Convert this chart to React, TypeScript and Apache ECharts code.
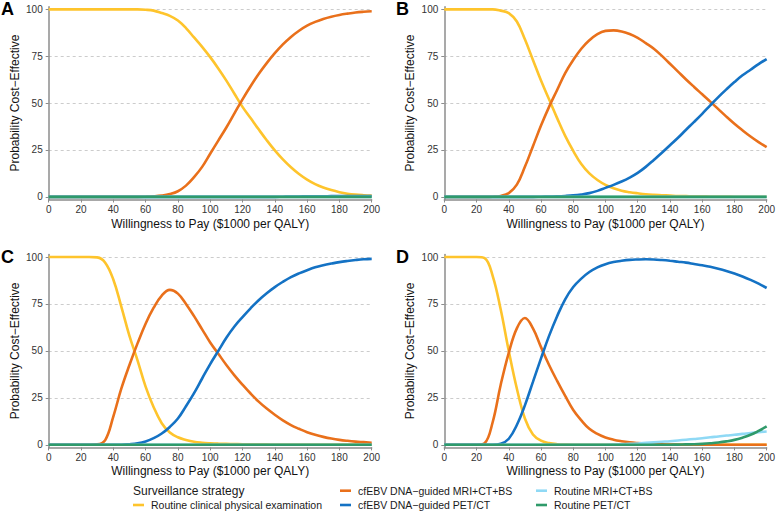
import React, { useEffect, useRef } from "react";
import * as echarts from "echarts";

// Willingness to pay ($1000 per QALY)
const WTP = [0, 5, 10, 15, 20, 25, 30, 35, 40, 45, 50, 55, 60, 65, 70, 75, 80, 85, 90, 95, 100, 105, 110, 115, 120, 125, 130, 135, 140, 145, 150, 155, 160, 165, 170, 175, 180, 185, 190, 195, 200];
const X_TICKS = [0, 20, 40, 60, 80, 100, 120, 140, 160, 180, 200];
const Y_TICKS = [0, 25, 50, 75, 100];

const STRATEGIES = [
  "Routine clinical physical examination",
  "cfEBV DNA\u2212guided MRI+CT+BS",
  "cfEBV DNA\u2212guided PET/CT",
  "Routine MRI+CT+BS",
  "Routine PET/CT",
];
const COLORS = ["#FEC42C", "#E9701B", "#1472C4", "#8FD9F5", "#2F9A6A"];
const PANELS = ["A", "B", "C", "D"];

// Panel A
const yellowA = [100, 100, 100, 100, 100, 100, 100, 100, 100, 100, 100, 100, 99.8, 99.3, 98, 96.5, 94, 90, 85, 80, 74.5, 68.5, 62, 55, 48, 42, 36, 30.2, 24.8, 20, 15.8, 12.2, 9.2, 6.8, 5, 3.6, 2.5, 1.7, 1.2, 0.9, 0.7];
const orangeA = [0, 0, 0, 0, 0, 0, 0, 0, 0, 0, 0, 0, 0.1, 0.3, 0.7, 1.5, 3, 6, 10.5, 16, 23, 30, 37, 44.5, 52, 59, 65.5, 71.3, 76.6, 81.3, 85.3, 88.6, 91.3, 93.3, 94.9, 96.1, 97, 97.7, 98.3, 98.7, 99];
const blueA = [0, 0, 0, 0, 0, 0, 0, 0, 0, 0, 0, 0, 0, 0, 0, 0, 0, 0, 0, 0, 0, 0, 0, 0, 0, 0, 0, 0, 0, 0.1, 0.2, 0.2, 0.3, 0.3, 0.3, 0.4, 0.4, 0.4, 0.4, 0.4, 0.4];
const lightA = [0, 0, 0, 0, 0, 0, 0, 0, 0, 0, 0, 0, 0, 0, 0, 0, 0, 0, 0, 0, 0, 0, 0, 0, 0, 0, 0, 0, 0, 0, 0, 0, 0, 0, 0, 0, 0, 0, 0, 0, 0];
const greenA = [0, 0, 0, 0, 0, 0, 0, 0, 0, 0, 0, 0, 0, 0, 0, 0, 0, 0, 0, 0, 0, 0, 0, 0, 0, 0, 0, 0, 0, 0, 0, 0, 0, 0, 0, 0, 0, 0, 0, 0, 0];

// Panel B
const yellowB = [100, 100, 100, 100, 100, 100, 100, 99.3, 98, 93.5, 84, 73, 62, 52, 42, 32.5, 24.5, 17.5, 12.5, 9, 6.4, 4.6, 3.3, 2.5, 1.9, 1.4, 1.1, 0.9, 0.7, 0.5, 0.4, 0.3, 0.3, 0.2, 0.2, 0.2, 0.1, 0.1, 0.1, 0.1, 0.1];
const orangeB = [0, 0, 0, 0, 0, 0, 0.1, 0.5, 2, 6.5, 16, 27, 38, 48, 57, 66, 73, 79, 83.5, 86.8, 88.5, 88.8, 88.2, 86.8, 84.8, 82, 79, 75.2, 71, 66.8, 62.6, 58.6, 54.7, 50.8, 46.8, 42.8, 39, 35.5, 32.2, 29.2, 26.5];
const blueB = [0, 0, 0, 0, 0, 0, 0, 0, 0, 0, 0, 0, 0.1, 0.2, 0.3, 0.5, 0.8, 1.3, 2, 3.2, 4.8, 6.4, 8.2, 10.3, 12.8, 16, 19.7, 23.5, 27.5, 31.5, 35.8, 40, 44.3, 48.8, 53.2, 57.3, 61.2, 64.8, 67.8, 70.8, 73.5];
const lightB = [0, 0, 0, 0, 0, 0, 0, 0, 0, 0, 0, 0, 0, 0, 0, 0, 0, 0, 0, 0, 0, 0, 0, 0, 0, 0, 0, 0, 0, 0, 0, 0, 0, 0, 0, 0, 0, 0, 0, 0, 0];
const greenB = [0, 0, 0, 0, 0, 0, 0, 0, 0, 0, 0, 0, 0, 0, 0, 0, 0, 0, 0, 0, 0, 0, 0, 0, 0, 0, 0, 0, 0, 0, 0, 0, 0, 0, 0, 0, 0, 0, 0, 0, 0];

// Panel C
const yellowC = [100, 100, 100, 100, 100, 100, 99.8, 97, 88, 73.5, 58, 45, 31, 20, 11.5, 6.5, 4, 2.6, 1.6, 1.1, 0.8, 0.6, 0.5, 0.4, 0.3, 0.3, 0.2, 0.2, 0.1, 0.1, 0.1, 0.1, 0.1, 0.1, 0.1, 0.1, 0.1, 0.1, 0.1, 0.1, 0.1];
const orangeC = [0, 0, 0, 0, 0, 0, 0.2, 2.5, 15, 30, 42.5, 54, 64.5, 73, 79.5, 82.5, 80.5, 75, 68.5, 61.5, 54.5, 48.5, 42.5, 37, 32, 27.3, 23, 19.3, 16, 13, 10.5, 8.5, 6.7, 5.3, 4.2, 3.3, 2.6, 2.1, 1.7, 1.4, 1.1];
const blueC = [0, 0, 0, 0, 0, 0, 0, 0, 0, 0, 0.3, 0.8, 1.8, 3.5, 6, 9.5, 14, 20.5, 27.5, 35.3, 43, 50, 57, 63, 68, 72.7, 77, 80.7, 84, 86.8, 89.3, 91.3, 93, 94.5, 95.6, 96.5, 97.3, 97.9, 98.4, 98.8, 99];
const lightC = [0, 0, 0, 0, 0, 0, 0, 0, 0, 0, 0, 0, 0, 0, 0, 0, 0, 0, 0, 0, 0, 0, 0, 0, 0, 0, 0, 0, 0, 0, 0, 0, 0, 0, 0, 0, 0, 0, 0, 0, 0];
const greenC = [0, 0, 0, 0, 0, 0, 0, 0, 0, 0, 0, 0, 0, 0, 0, 0, 0, 0, 0, 0, 0, 0, 0, 0, 0, 0, 0, 0, 0, 0, 0, 0, 0, 0, 0, 0, 0, 0, 0, 0, 0];

// Panel D
const yellowD = [100, 100, 100, 100, 100, 99.4, 90, 72, 50, 30, 14, 5.5, 2.2, 0.9, 0.3, 0.1, 0, 0, 0, 0, 0, 0, 0, 0, 0, 0, 0, 0, 0, 0, 0, 0, 0, 0, 0, 0, 0, 0, 0, 0, 0];
const orangeD = [0, 0, 0, 0, 0, 0.8, 12, 32, 49, 62, 67.5, 62, 52, 42.5, 34, 26, 18.5, 13, 8.5, 5.8, 3.9, 2.7, 1.9, 1.3, 0.9, 0.6, 0.4, 0.2, 0.1, 0, 0, 0, 0, 0, 0, 0, 0, 0, 0, 0, 0];
const blueD = [0, 0, 0, 0, 0, 0, 0, 0.5, 3.2, 10.5, 21, 33.5, 46, 58, 68.5, 77.5, 84, 88.5, 92, 94.5, 96.2, 97.3, 98, 98.5, 98.7, 98.8, 98.7, 98.4, 98, 97.5, 97, 96.3, 95.6, 94.8, 93.8, 92.6, 91.2, 89.6, 87.8, 85.8, 83.5];
const lightD = [0, 0, 0, 0, 0, 0, 0, 0, 0, 0, 0, 0, 0, 0, 0, 0, 0, 0, 0, 0, 0, 0.1, 0.3, 0.5, 0.7, 1, 1.3, 1.6, 1.9, 2.3, 2.7, 3.1, 3.5, 4, 4.4, 4.9, 5.3, 5.8, 6.2, 6.7, 7.1];
const greenD = [0, 0, 0, 0, 0, 0, 0, 0, 0, 0, 0, 0, 0, 0, 0, 0, 0, 0, 0, 0, 0, 0, 0, 0, 0, 0, 0, 0, 0, 0.1, 0.2, 0.3, 0.5, 0.8, 1.2, 1.8, 2.6, 3.8, 5.3, 7.4, 9.8];

const PANEL_DATA = [
  [yellowA, orangeA, blueA, lightA, greenA],
  [yellowB, orangeB, blueB, lightB, greenB],
  [yellowC, orangeC, blueC, lightC, greenC],
  [yellowD, orangeD, blueD, lightD, greenD],
];

const FONT = "'Liberation Sans', Arial, Helvetica, sans-serif";

export default function App() {
  const ref = useRef<HTMLDivElement>(null);

  useEffect(() => {
    document.body.style.margin = "0";
    if (!ref.current) return;
    const chart = echarts.init(ref.current, null, { renderer: "svg" });

    const grids = [
      { left: 48.7, top: 6.7, width: 323, height: 192.8 },
      { left: 444.3, top: 6.7, width: 325, height: 192.8 },
      { left: 48.7, top: 254.4, width: 323, height: 193 },
      { left: 444.3, top: 254.4, width: 325, height: 193 },
    ];
    const axisGray = "#8c8c8c";

    const xAxes = grids.map((_, i) => ({
      type: "value",
      gridIndex: i,
      min: 0,
      max: 200,
      interval: 20,
      name: "Willingness to Pay ($1000 per QALY)",
      nameLocation: "middle",
      nameGap: 18,
      nameTextStyle: { fontSize: 12, color: "#111", fontFamily: FONT },
      axisLine: { show: true, onZero: false, lineStyle: { color: axisGray, width: 1.5 } },
      axisTick: { show: true, length: 3, lineStyle: { color: axisGray, width: 1 } },
      axisLabel: { fontSize: 10, color: "#333", margin: 5, fontFamily: FONT, customValues: X_TICKS },
      splitLine: { show: false },
    }));

    const yAxes = grids.map((_, i) => ({
      type: "value",
      gridIndex: i,
      min: -1.4,
      max: 101.4,
      name: "Probability Cost\u2212Effective",
      nameLocation: "middle",
      nameGap: 28,
      nameTextStyle: { fontSize: 12, color: "#111", fontFamily: FONT },
      axisLine: { show: true, onZero: false, lineStyle: { color: axisGray, width: 1.5 } },
      axisTick: { show: true, length: 3, lineStyle: { color: axisGray, width: 1 }, customValues: Y_TICKS },
      axisLabel: { fontSize: 10, color: "#333", margin: 6, fontFamily: FONT, customValues: Y_TICKS },
      splitLine: { show: true, lineStyle: { color: "#cccccc", width: 1, type: [3, 3] } },
    }));

    const series: any[] = [];
    PANEL_DATA.forEach((panel, p) => {
      panel.forEach((vals, s) => {
        series.push({
          type: "line",
          name: STRATEGIES[s],
          xAxisIndex: p,
          yAxisIndex: p,
          data: WTP.map((x, k) => [x, vals[k]]),
          showSymbol: false,
          smooth: 0.4,
          lineStyle: { color: COLORS[s], width: 2.6 },
          itemStyle: { color: COLORS[s] },
          z: 2 + s,
        });
      });
    });

    const letterPos = [
      [1, 9],
      [396, 9],
      [1, 257],
      [396, 257],
    ];
    const graphics: any[] = PANELS.map((t, i) => ({
      type: "text",
      left: letterPos[i][0],
      top: letterPos[i][1] - 9,
      style: { text: t, fontSize: 18, fontWeight: "bold", fill: "#000", fontFamily: FONT },
    }));

    // Legend
    const legendItems = [
      { s: 0, x: 133, y: 505 },
      { s: 1, x: 340, y: 490.7 },
      { s: 2, x: 340, y: 505 },
      { s: 3, x: 536, y: 490.7 },
      { s: 4, x: 536, y: 505 },
    ];
    graphics.push({
      type: "text",
      x: 133,
      y: 490.7,
      style: { text: "Surveillance strategy", fontSize: 12, fill: "#1a1a1a", fontFamily: FONT, verticalAlign: "middle" },
    });
    legendItems.forEach((it) => {
      graphics.push({
        type: "line",
        shape: { x1: it.x, y1: it.y, x2: it.x + 11, y2: it.y },
        style: { stroke: COLORS[it.s], lineWidth: 2.6 },
      });
      graphics.push({
        type: "text",
        x: it.x + 18,
        y: it.y,
        style: { text: STRATEGIES[it.s], fontSize: 10.5, fill: "#1a1a1a", fontFamily: FONT, verticalAlign: "middle" },
      });
    });

    chart.setOption({
      animation: false,
      backgroundColor: "#ffffff",
      textStyle: { fontFamily: FONT },
      grid: grids,
      xAxis: xAxes,
      yAxis: yAxes,
      series,
      graphic: graphics,
    });

    return () => chart.dispose();
  }, []);

  return <div ref={ref} style={{ width: 778, height: 511 }} />;
}
